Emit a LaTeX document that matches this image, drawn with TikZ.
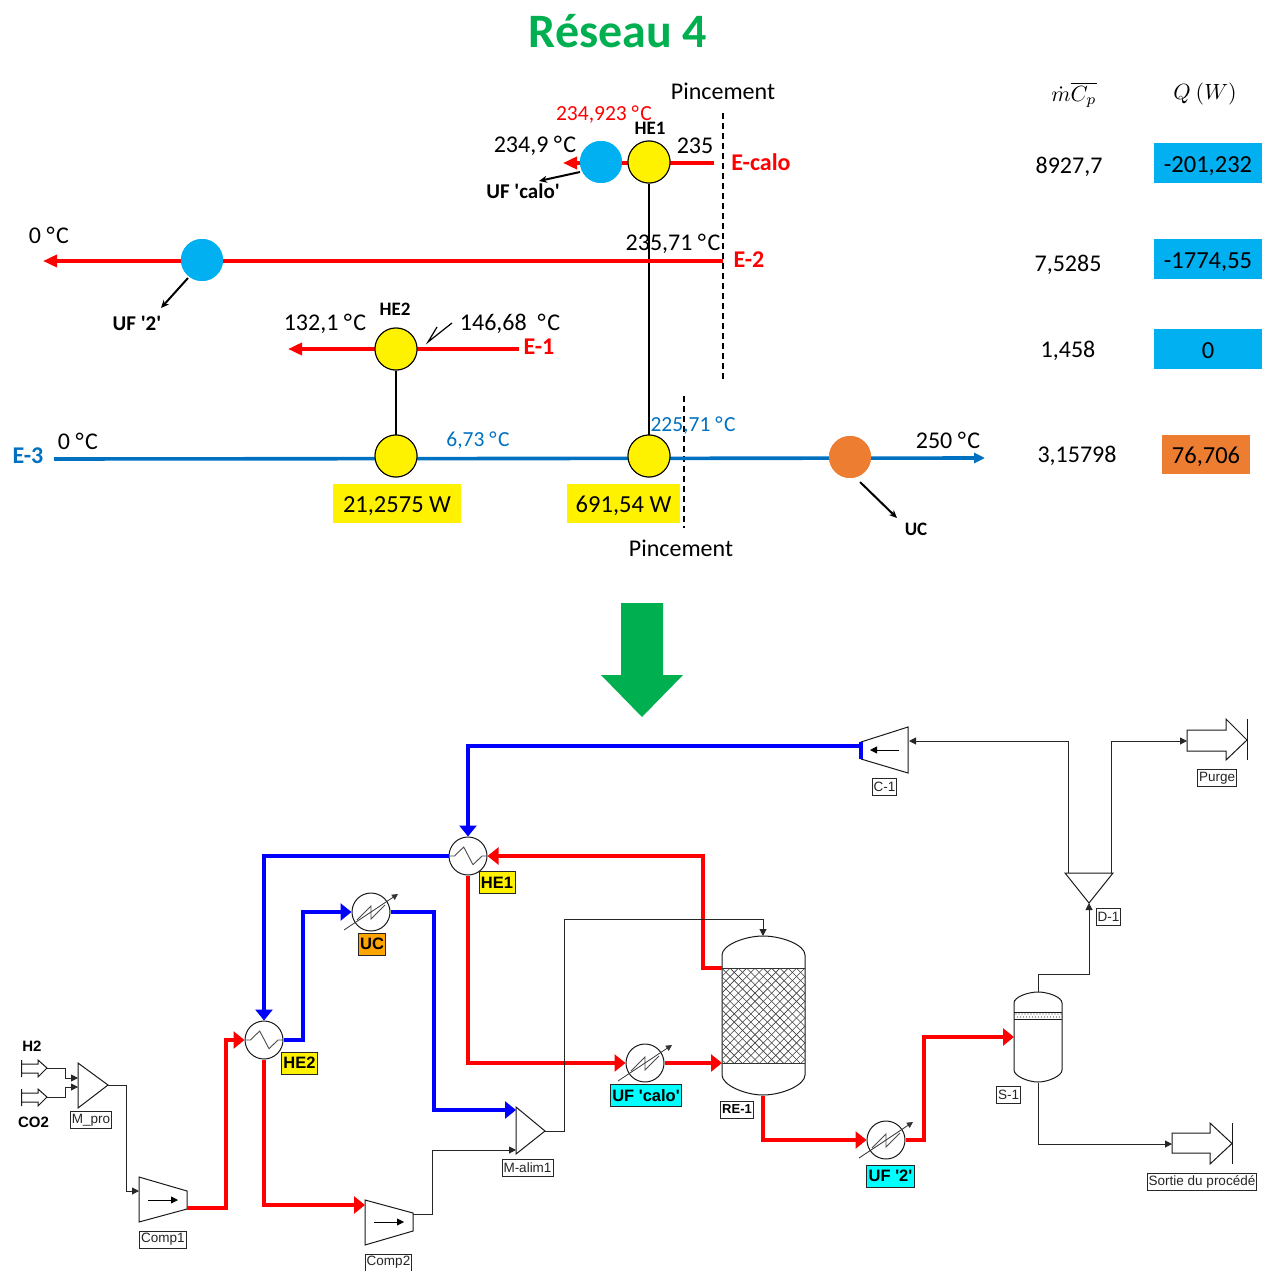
\documentclass[tikz,border=0pt]{standalone}
\usepackage{fontspec}
\setmainfont{Carlito}
\newfontfamily\simfont{Liberation Sans}
\usetikzlibrary{arrows.meta}
\newcommand{\degc}{°\kern1.5pt C}
\begin{document}
\begin{tikzpicture}[x=1pt,y=-1pt,
  txt/.style={font=\fontsize{24}{28}\selectfont,inner sep=0pt,text height=15pt,text depth=0pt},
  smalltxt/.style={font=\fontsize{21.5}{25}\selectfont,inner sep=0pt,text height=13.5pt,text depth=0pt},
  bold/.style={font=\fontsize{19}{22}\selectfont\bfseries,inner sep=0pt},
  boldnote/.style={font=\fontsize{21}{24}\selectfont\bfseries,inner sep=0pt},
  streamname/.style={font=\fontsize{24}{28}\selectfont\bfseries,inner sep=0pt},
  pinch/.style={line width=1.5pt,dash pattern=on 6pt off 4pt},
  topline/.style={line width=3.6pt},
  topred/.style={topline,draw=hotred},
  topblue/.style={topline,draw=trigblue},
  blob/.style={circle,minimum size=42pt,inner sep=0pt},
  match/.style={blob,draw=black,line width=1pt,fill=yellow},
  utility/.style={blob,fill=skyblue},
  tie/.style={line width=2.4pt},
  note/.style={line width=2pt,-{Stealth[length=8pt,width=7pt]}},
  valbox/.style={fill=skyblue,text=black,font=\fontsize{24.5}{28}\selectfont,inner sep=0pt,text height=18pt,text depth=0pt,anchor=center},
  hot/.style={line width=4.5pt,draw=hotred,-{Triangle[length=11pt,width=17pt]}},
  cold/.style={line width=4.5pt,draw=coldblue,-{Triangle[length=11pt,width=17pt]}},
  thinflow/.style={line width=1pt,draw=black!85,-{Triangle[length=7pt,width=7pt]}},
  unit/.style={line width=1pt,draw=black!90,fill=white},
  hx/.style={circle,draw=black!90,fill=white,line width=1pt,minimum size=38pt,inner sep=0pt},
  tag/.style={draw=black!85,fill=white,line width=.9pt,text=black!85,font=\fontsize{13.5}{15}\simfont\selectfont,inner sep=1.5pt,minimum height=17pt},
  hxtag/.style={tag,text=black,font=\fontsize{16.5}{18}\simfont\selectfont\bfseries,inner sep=2pt,minimum height=22pt},
  feedname/.style={font=\fontsize{15}{17}\simfont\selectfont\bfseries,inner sep=0pt}]
  \definecolor{hotred}{RGB}{255,0,0}
  \definecolor{coldblue}{RGB}{0,0,255}
  \definecolor{trigblue}{RGB}{0,112,192}
  \definecolor{skyblue}{RGB}{0,176,240}
  \definecolor{pinchorange}{RGB}{237,125,49}
  \definecolor{titlegreen}{RGB}{0,176,80}
  \definecolor{tagcyan}{RGB}{0,255,255}
  \definecolor{tagorange}{RGB}{255,165,0}
  \useasboundingbox (0,0) rectangle (1269,1271);
  \node[font=\fontsize{48}{52}\selectfont\bfseries,text=titlegreen] (title) at (618,31) {Réseau 4};

  % pinch lines
  \node[txt] (pinchtop) at (723,92) {Pincement};
  \node[txt] (pinchbot) at (681,549) {Pincement};
  \coordinate (pa) at (723,113);
  \coordinate (pb) at (723,381);
  \coordinate (pc) at (684,396);
  \coordinate (pd) at (684,528);
  \draw[pinch] (pa)--(pb);
  \draw[pinch] (pc)--(pd);

  % streams of the grid
  \node[match] (gridhe1) at (649,162) {};
  \node[utility] (ufcalo) at (601,162) {};
  \node[utility] (uftwo) at (202,260) {};
  \node[match] (gridhe2) at (396,349) {};
  \node[match] (gridhe2b) at (396,456) {};
  \node[match] (gridhe1b) at (649,456) {};
  \node[utility,fill=pinchorange] (heater) at (850,457) {};
  \coordinate (calostart) at (714,163);
  \coordinate (caloend) at (563,163);
  \coordinate (twostart) at (723,261);
  \coordinate (twoend) at (43,261);
  \coordinate (onestart) at (519,349);
  \coordinate (oneend) at (288,349);
  \coordinate (threestart) at (54,459);
  \coordinate (threeend) at (985,458);
  \draw[tie] (gridhe1)--(gridhe1b);
  \draw[tie] (gridhe2)--(gridhe2b);
  \draw[topred,-{Triangle[length=14pt,width=12pt]}] (calostart)--(caloend);
  \draw[topred,-{Triangle[length=14pt,width=12pt]}] (twostart)--(twoend);
  \draw[topred,-{Triangle[length=14pt,width=12pt]}] (onestart)--(oneend);
  \draw[topblue,-{Triangle[length=11pt,width=10pt]}] (threestart)--(threeend);
  \node[match] at (gridhe1) {};
  \node[utility] at (ufcalo) {};
  \node[utility] at (uftwo) {};
  \node[match] at (gridhe2) {};
  \node[match] at (gridhe2b) {};
  \node[match] at (gridhe1b) {};
  \node[utility,fill=pinchorange] at (heater) {};

  % labels of the grid
  \node[streamname,text=hotred] (ecalo) at (761,162) {E-calo};
  \node[streamname,text=hotred] (etwo) at (749,260) {E-2};
  \node[streamname,text=hotred] (eone) at (539,347) {E-1};
  \node[streamname,text=trigblue] (ethree) at (28,456) {E-3};
  \node[bold] (lhe1) at (650,128) {HE1};
  \node[bold] (lhe2) at (395,309) {HE2};
  \node[bold] (luc) at (916,529) {UC};
  \node[boldnote] (lcalo) at (523,191) {UF \textquotesingle calo\textquotesingle};
  \node[boldnote] (ltwo) at (137,323) {UF \textquotesingle 2\textquotesingle};
  \node[smalltxt,text=hotred] at (604,114) {234,923 \degc};
  \node[txt] at (535,145) {234,9 \degc};
  \node[txt] at (695,146) {235};
  \node[txt] at (673,243) {235,71 \degc};
  \node[txt] at (49,236) {0 \degc};
  \node[txt] at (325,323) {132,1 \degc};
  \node[txt] at (510,323) {146,68 \ \degc};
  \node[txt] at (78,442) {0 \degc};
  \node[smalltxt,text=trigblue] at (478,440) {6,73 \degc};
  \node[smalltxt,text=trigblue] at (693,425) {225,71 \degc};
  \node[txt] at (948,441) {250 \degc};
  \coordinate (notea) at (580,172);
  \coordinate (noteb) at (539,181);
  \coordinate (notec) at (188,278);
  \coordinate (noted) at (161,308);
  \coordinate (notee) at (860,482);
  \coordinate (notef) at (897,518);
  \draw[note] (notea)--(noteb);
  \draw[note] (notec)--(noted);
  \draw[note] (notee)--(notef);
  \draw[line width=1.2pt] (452,323)--(428,342)--(437,327);
  \node[valbox,fill=yellow,minimum width=128pt,minimum height=39pt] (dutya) at (397,503.5) {21,2575 W};
  \node[valbox,fill=yellow,minimum width=113pt,minimum height=39pt] (dutyb) at (623.5,503.5) {691,54 W};

  % table on the right
  \node[scale=2.2] (headmcp) at (1074,95) {$\dot{m}\overline{C_p}$};
  \node[scale=2.2] (headq) at (1205,94) {$Q\ (W)$};
  \node[txt] at (1069,166) {8927,7};
  \node[txt] at (1068,264) {7,5285};
  \node[txt] at (1068,350) {1,458};
  \node[txt] at (1077,455) {3,15798};
  \node[valbox,minimum width=108pt,minimum height=40pt] at (1208,163) {-201,232};
  \node[valbox,minimum width=108pt,minimum height=40pt] at (1208,259) {-1774,55};
  \node[valbox,minimum width=108pt,minimum height=40pt] at (1208,349) {0};
  \node[valbox,fill=pinchorange,minimum width=88pt,minimum height=39pt] at (1206,454) {76,706};

  % big arrow
  \fill[titlegreen] (621,603)--(663,603)--(663,675)--(683,675)--(642,717)--(601,675)--(621,675)--cycle;

  % process units
  \node[hx] (he1) at (468,856) {};
  \node[hx] (uc) at (371,912) {};
  \node[hx] (he2) at (264,1040) {};
  \node[hx] (ufc) at (645,1063) {};
  \node[hx] (uf2) at (886,1140) {};
  \foreach \n in {he1,he2}
    \draw[line width=.9pt,black!70,shift={(\n)}] (-18.7,0)--(-13.6,0)--(-4.3,-9)--(5,8.7)--(14,0)--(19,0);
  \foreach \n in {uc,ufc,uf2} {
    \draw[line width=.9pt,black!70,shift={(\n)}] (-14,8)--(0,-6)--(0,7)--(14,-7);
    \draw[line width=.8pt,black!80,shift={(\n)},-{Triangle[length=6pt,width=6pt]}] (-27,18)--(27,-18);
  }
  \draw[unit] (139,1177)--(187,1191)--(187,1209)--(139,1222)--cycle;
  \draw[unit] (365,1200)--(413,1213)--(413,1231)--(365,1245)--cycle;
  \draw[unit] (908,727)--(861,742)--(861,759)--(908,773)--cycle;
  \draw[unit] (78,1063)--(108,1085)--(78,1108)--cycle;
  \draw[unit] (516,1107)--(545,1131)--(516,1154)--cycle;
  \draw[unit] (1065,873)--(1113,873)--(1089,903)--cycle;
  \draw[line width=.8pt,-{Triangle[length=7pt,width=7pt]}] (148,1200)--(178,1200);
  \draw[line width=.8pt,-{Triangle[length=7pt,width=7pt]}] (374,1222)--(404,1222);
  \draw[line width=.8pt,-{Triangle[length=7pt,width=7pt]}] (899,750)--(870,750);

  % reactor
  \draw[unit] (722,968)--(722,955) .. controls (722,945) and (745,936) .. (763,936)
    .. controls (782,936) and (805,945) .. (805,955)--(805,1075)
    .. controls (805,1085) and (782,1095) .. (763,1095)
    .. controls (745,1095) and (722,1085) .. (722,1075)--cycle;
  \begin{scope}
    \clip (722,968) rectangle (805,1063);
    \foreach \d in {0,8.3,...,200} {
      \draw[line width=.6pt,black!75] (722+\d-100,968)--(722+\d,1068);
      \draw[line width=.6pt,black!75] (722+\d,968)--(722+\d-100,1068);
    }
  \end{scope}
  \draw[line width=1pt,black!80] (722,968)--(805,968);
  \draw[line width=1pt,black!80] (722,1063)--(805,1063);

  % separator
  \draw[unit] (1014,1003) .. controls (1014,997) and (1028,992) .. (1038,992)
    .. controls (1048,992) and (1062,997) .. (1062,1003)--(1062,1070)
    .. controls (1062,1076) and (1048,1082) .. (1038,1082)
    .. controls (1028,1082) and (1014,1076) .. (1014,1070)--cycle;
  \foreach \px in {1016,1019,...,1061} {
    \fill[black!70] (\px,1014) circle (.6);
    \fill[black!70] (\px+1.5,1017) circle (.6);
  }
  \draw[line width=1pt,black!90] (1014,1012)--(1062,1012);
  \draw[line width=1pt,black!90] (1014,1019)--(1062,1019);

  % feeds and products
  \draw[unit] (21.7,1060)--(21.7,1077) (21.7,1064)--(38,1064)--(38,1060)--(47,1068)--(38,1077)--(38,1073)--(21.7,1073);
  \draw[unit] (21.7,1089)--(21.7,1106) (21.7,1093)--(38,1093)--(38,1089)--(47,1097)--(38,1106)--(38,1102)--(21.7,1102);
  \draw[unit] (1187,730)--(1226,730)--(1226,719)--(1247,740)--(1226,760)--(1226,751)--(1187,751)--cycle;
  \draw[unit] (1247,719)--(1247,760);
  \draw[unit] (1172,1133)--(1210,1133)--(1210,1123)--(1232,1143.5)--(1210,1164)--(1210,1153)--(1172,1153)--cycle;
  \draw[unit] (1232,1123)--(1232,1164);

  % ports
  \coordinate (c1out) at (860,746);
  \coordinate (c1in) at (909,741);
  \coordinate (alimcold) at (516,1110);
  \coordinate (alimhot) at (516,1150);
  \coordinate (alimout) at (545,1131);
  \coordinate (retop) at (763,936);
  \coordinate (rebed) at (722,968);
  \coordinate (reinlet) at (722,1063);
  \coordinate (rebot) at (763,1096);
  \coordinate (sepin) at (1014,1037);
  \coordinate (septop) at (1038,992);
  \coordinate (sepbot) at (1038,1083);
  \coordinate (splitin) at (1089,903);
  \coordinate (splita) at (1068,873);
  \coordinate (splitb) at (1111,873);
  \coordinate (purgein) at (1187,741);
  \coordinate (sortiein) at (1172,1144);
  \coordinate (comp1in) at (139,1191);
  \coordinate (comp1out) at (187,1208);
  \coordinate (comp2in) at (365,1205);
  \coordinate (comp2out) at (413,1214);
  \coordinate (mproout) at (108,1085);
  \coordinate (mproa) at (78,1078);
  \coordinate (mprob) at (78,1087);
  \coordinate (hfeed) at (47,1068);
  \coordinate (cfeed) at (47,1097);

  % thick streams
  \draw[cold] (c1out)--(468,746)--(he1.north);
  \draw[line width=4.5pt,draw=coldblue] (861,742)--(861,759);
  \draw[cold] (he1.west)--(264,856)--(he2.north);
  \draw[cold] (he2.east)--(303,1040)--(303,912)--(uc.west);
  \draw[cold] (uc.east)--(434,912)--(434,1110)--(alimcold);
  \draw[hot] (he1.south)--(468,1063)--(ufc.west);
  \draw[hot] (ufc.east)--(reinlet);
  \draw[hot] (rebed)--(703,968)--(703,856)--(he1.east);
  \draw[hot] (rebot)--(763,1140)--(uf2.west);
  \draw[hot] (uf2.east)--(924,1140)--(924,1037)--(sepin);
  \draw[hot] (comp1out)--(226,1208)--(226,1040)--(he2.west);
  \draw[hot] (he2.south)--(264,1205)--(comp2in);

  % thin streams
  \draw[thinflow] (hfeed)--(65,1068)--(65,1078)--(mproa);
  \draw[thinflow] (cfeed)--(65,1097)--(65,1087)--(mprob);
  \draw[thinflow] (mproout)--(126,1085)--(126,1191)--(comp1in);
  \draw[thinflow] (comp2out)--(432,1214)--(432,1150)--(alimhot);
  \draw[thinflow] (alimout)--(564,1131)--(564,919)--(763,919)--(retop);
  \draw[thinflow] (septop)--(1038,974)--(1089,974)--(splitin);
  \draw[thinflow] (splita)--(1068,741)--(c1in);
  \draw[thinflow] (splitb)--(1111,741)--(purgein);
  \draw[thinflow] (sepbot)--(1038,1144)--(sortiein);

  % unit names
  \node[tag] (tmpro) at (91,1120) {M\_pro};
  \node[tag] (tcomp1) at (163,1239.5) {Comp1};
  \node[tag] (tcomp2) at (388.5,1262.5) {Comp2};
  \node[tag] (talim) at (527.5,1168) {M-alim1};
  \node[tag] (tc1) at (884.5,786.5) {C-1};
  \node[tag] (tpurge) at (1217,778) {Purge};
  \node[tag] (td1) at (1108.5,916.5) {D-1};
  \node[tag] (ts1) at (1008.5,1094.5) {S-1};
  \node[tag] (tsortie) at (1202,1181.5) {Sortie du procédé};
  \node[tag,text=black,font=\fontsize{13}{15}\simfont\selectfont\bfseries] (tre) at (737,1109.5) {RE-1};
  \node[hxtag,fill=yellow] (the1) at (497,882.5) {HE1};
  \node[hxtag,fill=yellow] (the2) at (299.5,1063) {HE2};
  \node[hxtag,fill=tagorange] (tuc) at (372,944) {UC};
  \node[hxtag,fill=tagcyan] (tufc) at (646,1095.5) {UF 'calo'};
  \node[hxtag,fill=tagcyan] (tuf2) at (890.5,1176) {UF '2'};
  \node[feedname] (lh2) at (32,1046) {H2};
  \node[feedname] (lco2) at (33.5,1122) {CO2};
\end{tikzpicture}
\end{document}
